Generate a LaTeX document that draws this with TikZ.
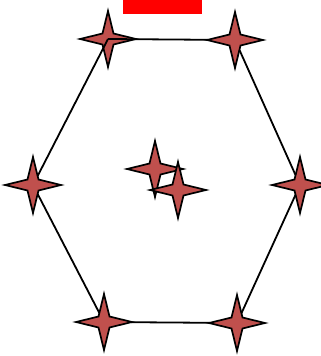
\documentclass[tikz,border=0pt]{standalone}
\usetikzlibrary{shapes.geometric}
\definecolor{starred}{RGB}{192,80,77}
\tikzset{
  spark/.style={star, star points=4, star point ratio=3.6, minimum size=56pt,
    inner sep=0pt, outer sep=0pt, fill=starred, draw=black, line width=1.7pt},
  edge/.style={draw=black, line width=1.8pt}
}
\begin{document}
\begin{tikzpicture}[x=1pt,y=-1pt]
\useasboundingbox (0,0) rectangle (321,356);
\fill[red] (123,0) rectangle (202,14);
\node[spark] (tl) at (108,39) {};
\node[spark] (tr) at (235,40) {};
\node[spark] (r) at (300,185) {};
\node[spark] (br) at (237,323) {};
\node[spark] (bl) at (104,322) {};
\node[spark] (l) at (33,185) {};
\node[spark] (c1) at (155,169) {};
\node[spark] (c2) at (178,190) {};
\path[edge] (tl.center) -- (tr);
\path[edge] (tr) -- (r);
\path[edge] (r) -- (br);
\path[edge] (br) -- (bl);
\path[edge] (bl) -- (l);
\path[edge] (l) -- (tl.center);
\end{tikzpicture}
\end{document}
